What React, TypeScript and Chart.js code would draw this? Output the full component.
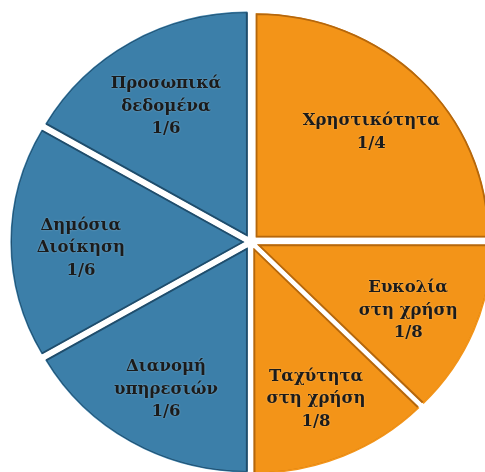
import React, { useEffect, useRef } from "react";
import { Chart, registerables } from "chart.js";

Chart.register(...registerables);

const categories = [
  "Χρηστικότητα",
  "Ευκολία στη χρήση",
  "Ταχύτητα στη χρήση",
  "Διανομή υπηρεσιών",
  "Δημόσια Διοίκηση",
  "Προσωπικά δεδομένα",
];
const categoryLines = [
  ["Χρηστικότητα"],
  ["Ευκολία", "στη χρήση"],
  ["Ταχύτητα", "στη χρήση"],
  ["Διανομή", "υπηρεσιών"],
  ["Δημόσια", "Διοίκηση"],
  ["Προσωπικά", "δεδομένα"],
];
const shares = [1 / 4, 1 / 8, 1 / 8, 1 / 6, 1 / 6, 1 / 6];
const shareLabels = ["1/4", "1/8", "1/8", "1/6", "1/6", "1/6"];

const ORANGE = "#f39418";
const BLUE = "#3c7fa9";
const sliceColors = [ORANGE, ORANGE, ORANGE, BLUE, BLUE, BLUE];
const edgeColors = ["#b5670c", "#b5670c", "#b5670c", "#1f4d6c", "#1f4d6c", "#1f4d6c"];

// Chart.js draws arcs shifted by offset/4 pixels
const SLICE_OFFSET = 28;
const LABEL_RADIUS = 0.7;
const PIE_RADIUS = 233;
const V_SQUASH = 224 / 233; // the reference pie is slightly flattened

const squashPlugin = {
  id: "squash",
  beforeDatasetsDraw(chart: any) {
    const ctx = chart.ctx;
    const a = chart.chartArea;
    const cx = (a.left + a.right) / 2;
    const cy = (a.top + a.bottom) / 2;
    ctx.save();
    ctx.translate(cx, cy);
    ctx.scale(1, V_SQUASH);
    ctx.translate(-cx, -cy);
  },
  afterDatasetsDraw(chart: any) {
    chart.ctx.restore();
  },
};

const labelPlugin = {
  id: "sliceLabels",
  afterDatasetsDraw(chart: any) {
    const ctx = chart.ctx;
    const meta = chart.getDatasetMeta(0);
    ctx.save();
    ctx.font = "bold 16.5px 'DejaVu Serif', serif";
    ctx.textAlign = "center";
    ctx.textBaseline = "middle";
    ctx.fillStyle = "#1b1b1b";
    ctx.shadowColor = "rgba(255,255,255,0.35)";
    ctx.shadowBlur = 2;
    meta.data.forEach((arc: any, i: number) => {
      const p = arc.getProps(["x", "y", "startAngle", "endAngle", "outerRadius"], true);
      const mid = (p.startAngle + p.endAngle) / 2;
      const r = p.outerRadius * LABEL_RADIUS + SLICE_OFFSET / 4;
      const cx = p.x + Math.cos(mid) * r;
      const cy = p.y + Math.sin(mid) * r * V_SQUASH + 6;
      const lines = [...categoryLines[i], shareLabels[i]];
      const lh = 22.5;
      const top = cy - ((lines.length - 1) * lh) / 2;
      lines.forEach((t, j) => ctx.fillText(t, cx, top + j * lh));
    });
    ctx.restore();
  },
};

export default function App() {
  const ref = useRef<HTMLCanvasElement>(null);
  useEffect(() => {
    if (!ref.current) return;
    const chart = new Chart(ref.current, {
      type: "pie",
      data: {
        labels: categories,
        datasets: [
          {
            data: shares,
            backgroundColor: sliceColors,
            borderColor: edgeColors,
            borderWidth: 1.5,
            borderAlign: "inner",
            offset: SLICE_OFFSET,
          },
        ],
      },
      options: {
        responsive: false,
        animation: false,
        radius: PIE_RADIUS,
        layout: { padding: { left: 17, right: 0, top: 12, bottom: 0 } },
        plugins: { legend: { display: false }, tooltip: { enabled: false } },
      },
      plugins: [squashPlugin, labelPlugin],
    });
    return () => chart.destroy();
  }, []);
  return (
    <div style={{ position: "fixed", left: 0, top: 0, width: 485, height: 472, background: "#fff" }}>
      <canvas ref={ref} width={485} height={472} style={{ width: 485, height: 472 }} />
    </div>
  );
}
